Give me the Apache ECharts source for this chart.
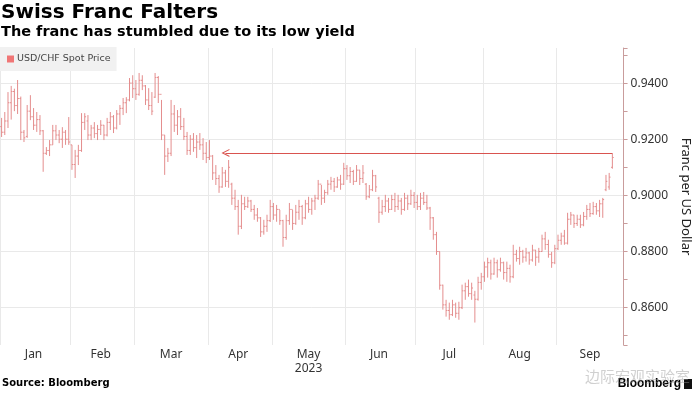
<!DOCTYPE html>
<html><head><meta charset="utf-8">
<script src="https://cdn.jsdelivr.net/npm/echarts@6/dist/echarts.min.js"></script>
<style>html,body{margin:0;padding:0;background:#fff}#c{width:700px;height:393px}</style>
</head><body><div id="c"></div>
<script>
// ---- data ----
const monthLabels = ['Jan','Feb','Mar','Apr','May','Jun','Jul','Aug','Sep'];
const yearLabel = '2023';
const seriesName = 'USD/CHF Spot Price';
const refLevel = 0.9151;      // annotated level (arrow line)
const refStartIdx = 70;       // bar where the arrow points (early April)

const openP = [
.9245,.9225,.9265,.9330,.9370,.9320,.9345,.9225,.9210,.9300,.9280,.9250,.9270,.9230,.9150,.9160,.9180,.9230,.9215,.9200,.9225,.9200,
.9180,.9110,.9140,.9160,.9260,.9265,.9215,.9240,.9220,.9235,.9250,.9215,.9260,.9280,.9240,.9290,.9310,.9330,.9340,.9400,
.9380,.9360,.9410,.9390,.9340,.9320,.9350,.9420,.9360,.9215,.9140,.9150,.9290,.9250,.9280,.9245,.9210,.9160,.9200,.9170,.9190,.9180,.9150,
.9135,.9140,.9080,.9060,.9030,.9080,.9050,.9040,.8990,.8960,.8890,.8970,.8960,.8980,.8950,.8930,.8920,.8870,.8890,.8910,
.8960,.8930,.8950,.8910,.8850,.8910,.8950,.8900,.8940,.8960,.8920,.8970,.8950,.8980,.8990,.9040,.8990,.9010,.9040,.9050,.9030,.9055,.9040,
.9095,.9070,.9085,.9050,.9090,.9060,.9040,.8995,.9020,.9070,.8990,.8940,.8960,.8980,.8950,.8985,.8960,.8980,.8950,.8990,.8970,.9000,
.8975,.8960,.8990,.8975,.8955,.8920,.8860,.8800,.8680,.8610,.8590,.8575,.8610,.8580,.8600,.8660,.8675,.8650,.8645,.8630,.8690,
.8710,.8745,.8760,.8720,.8760,.8735,.8760,.8725,.8740,.8710,.8790,.8775,.8800,.8780,.8795,.8770,.8805,.8780,.8800,.8845,.8825,.8790,.8760,
.8810,.8840,.8855,.8830,.8915,.8930,.8900,.8915,.8895,.8925,.8950,.8935,.8960,.8945,.8970,.9020,.9030,.9100
];
const closeP = [
.9225,.9265,.9330,.9370,.9320,.9345,.9225,.9205,.9300,.9280,.9250,.9270,.9230,.9150,.9160,.9180,.9230,.9215,.9200,.9225,.9200,.9190,
.9110,.9140,.9160,.9260,.9280,.9215,.9240,.9220,.9235,.9250,.9215,.9260,.9280,.9240,.9290,.9310,.9330,.9340,.9400,.9380,
.9360,.9410,.9390,.9340,.9320,.9300,.9420,.9360,.9215,.9140,.9150,.9290,.9250,.9280,.9245,.9210,.9160,.9200,.9170,.9190,.9180,.9150,.9135,
.9140,.9080,.9060,.9030,.9080,.9050,.9100,.8990,.8960,.8890,.8970,.8960,.8980,.8950,.8930,.8920,.8870,.8890,.8910,.8960,
.8930,.8950,.8910,.8850,.8910,.8950,.8900,.8940,.8960,.8920,.8970,.8950,.8980,.8990,.9040,.8990,.9010,.9040,.9050,.9030,.9055,.9040,.9095,
.9070,.9085,.9050,.9090,.9060,.9080,.8995,.9020,.9070,.9030,.8940,.8960,.8980,.8950,.8985,.8960,.8980,.8950,.8990,.8970,.9000,.8975,
.8960,.8990,.8975,.8955,.8920,.8860,.8800,.8680,.8610,.8590,.8575,.8610,.8580,.8600,.8660,.8675,.8650,.8670,.8630,.8690,.8710,
.8745,.8760,.8720,.8760,.8735,.8760,.8725,.8740,.8710,.8790,.8775,.8800,.8780,.8795,.8770,.8805,.8780,.8800,.8845,.8825,.8790,.8760,.8810,
.8840,.8855,.8830,.8915,.8930,.8900,.8915,.8895,.8925,.8950,.8935,.8960,.8945,.8970,.8985,.9050,.9065,.9135
];
const highP = [
.9276,.9297,.9368,.9390,.9380,.9411,.9352,.9233,.9322,.9357,.9311,.9297,.9286,.9233,.9172,.9197,.9251,.9251,.9233,.9243,.9233,.9279,
.9180,.9162,.9180,.9293,.9293,.9286,.9251,.9261,.9251,.9268,.9251,.9276,.9297,.9286,.9304,.9322,.9347,.9350,.9418,.9428,
.9411,.9436,.9428,.9393,.9382,.9368,.9436,.9425,.9340,.9215,.9169,.9340,.9322,.9304,.9311,.9276,.9226,.9215,.9222,.9215,.9222,.9204,.9190,
.9197,.9144,.9108,.9073,.9101,.9091,.9126,.9045,.9020,.8984,.9002,.8995,.8995,.8984,.8966,.8955,.8923,.8913,.8931,.8984,
.8973,.8966,.8948,.8913,.8931,.8973,.8948,.8966,.8984,.8966,.8984,.8995,.8991,.9002,.9055,.9037,.9020,.9055,.9066,.9062,.9066,.9073,.9116,
.9108,.9101,.9091,.9108,.9091,.9108,.9044,.9037,.9091,.9073,.8995,.8984,.9002,.8991,.9002,.9009,.9002,.8991,.9009,.9002,.9020,.9012,
.9002,.9009,.9012,.9002,.8959,.8923,.8870,.8800,.8682,.8628,.8618,.8628,.8618,.8621,.8682,.8689,.8700,.8689,.8660,.8710,.8724,
.8764,.8778,.8771,.8778,.8771,.8778,.8764,.8764,.8753,.8824,.8806,.8817,.8806,.8813,.8799,.8824,.8806,.8813,.8860,.8870,.8842,.8799,.8824,
.8860,.8867,.8877,.8938,.8941,.8931,.8931,.8931,.8941,.8966,.8973,.8977,.8973,.8984,.8991,.9073,.9080,.9150
];
const lowP = [
.9208,.9215,.9240,.9270,.9300,.9290,.9197,.9190,.9205,.9268,.9233,.9226,.9215,.9084,.9144,.9140,.9180,.9197,.9186,.9169,.9180,.9180,
.9091,.9062,.9108,.9155,.9233,.9197,.9197,.9204,.9197,.9215,.9197,.9210,.9233,.9222,.9235,.9251,.9286,.9293,.9335,.9347,
.9340,.9355,.9375,.9322,.9304,.9286,.9347,.9329,.9197,.9073,.9119,.9140,.9226,.9215,.9233,.9197,.9144,.9144,.9155,.9133,.9162,.9126,.9115,
.9126,.9055,.9037,.9009,.9027,.9030,.9027,.8966,.8948,.8860,.8880,.8948,.8955,.8941,.8913,.8906,.8852,.8860,.8870,.8905,
.8913,.8906,.8895,.8817,.8842,.8895,.8877,.8895,.8913,.8895,.8915,.8938,.8931,.8948,.8984,.8966,.8973,.9002,.9020,.9012,.9027,.9020,.9037,
.9055,.9044,.9037,.9048,.9037,.9044,.8984,.8990,.9015,.9012,.8902,.8931,.8941,.8938,.8948,.8941,.8948,.8931,.8945,.8948,.8966,.8955,
.8948,.8948,.8966,.8948,.8877,.8842,.8788,.8664,.8593,.8568,.8557,.8570,.8564,.8557,.8595,.8628,.8639,.8628,.8547,.8625,.8664,
.8692,.8707,.8700,.8717,.8707,.8728,.8700,.8692,.8689,.8705,.8764,.8753,.8760,.8764,.8753,.8764,.8749,.8760,.8799,.8806,.8778,.8742,.8755,
.8805,.8824,.8824,.8825,.8895,.8884,.8891,.8884,.8890,.8913,.8923,.8931,.8931,.8923,.8920,.9015,.9020,.9095
];

// weekday categories, 2 Jan – 29 Sep 2023
const dates = [];
for (let d = new Date(Date.UTC(2023,0,2)); d <= new Date(Date.UTC(2023,8,29)); d.setUTCDate(d.getUTCDate()+1)) {
  const wd = d.getUTCDay();
  if (wd !== 0 && wd !== 6) dates.push(d.toISOString().slice(0,10));
}
const monthOf = dates.map(s => +s.slice(5,7) - 1);
const monthStart = new Set(), monthRange = {};
monthOf.forEach((m,i) => {
  if (i === 0 || monthOf[i-1] !== m) monthStart.add(i);
  if (!monthRange[m]) monthRange[m] = [i,i]; else monthRange[m][1] = i;
});
const labelIdx = {};
Object.keys(monthRange).forEach(m => { const r = monthRange[m]; labelIdx[Math.floor((r[0]+r[1])/2)] = +m; });

const ohlc = openP.map((o,i) => [i, o, closeP[i], lowP[i], highP[i]]);

const barColor = '#e48d8d';
const chevron = 'path://M0,10 L5,0 L10,10 L8.6,10 L5,2.8 L1.4,10 Z';

const chart = echarts.init(document.getElementById('c'), null, {renderer:'canvas'});
chart.setOption({
  animation: false,
  backgroundColor: '#fff',
  title: {
    text: 'Swiss Franc Falters',
    subtext: 'The franc has stumbled due to its low yield',
    left: 1, top: 3, padding: 0, itemGap: 2,
    textStyle: {fontFamily:'DejaVu Sans', fontWeight:'bold', fontSize:20, color:'#000'},
    subtextStyle: {fontFamily:'DejaVu Sans', fontWeight:'bold', fontSize:14.5, color:'#000'}
  },
  legend: {
    left: 0, top: 47, padding: [7,6,7,7], backgroundColor: '#f1f1f1',
    itemWidth: 7, itemHeight: 7, itemGap: 4, icon: 'rect',
    textStyle: {fontFamily:'DejaVu Sans', fontSize:9.5, color:'#444', padding:[0,0,0,-2]},
    data: [{name: seriesName, itemStyle: {color:'#f07676'}}],
    selectedMode: false
  },
  grid: {left: 0, right: 68, top: 48, bottom: 48, containLabel: false},
  xAxis: {
    type: 'category', data: dates, boundaryGap: true,
    axisLine: {show:false}, axisTick: {show:false},
    axisLabel: {
      interval: (i) => labelIdx[i] !== undefined,
      formatter: (v, i) => { const m = labelIdx[i]; return m === 4 ? monthLabels[m] + '\n' + yearLabel : monthLabels[m]; },
      color: '#333', fontSize: 12, fontFamily: 'Noto Sans', margin: 3, lineHeight: 14
    },
    splitLine: {show: true, interval: (i) => monthStart.has(i), lineStyle: {color:'#e9e9e9', width:1}}
  },
  yAxis: {
    type: 'value', position: 'right', min: 0.8467, max: 0.9525, splitNumber: 5, scale: true,
    axisLine: {show:true, lineStyle:{color:'#c99c9c'}},
    axisTick: {show:true, length:4, lineStyle:{color:'#c99c9c'}},
    minorTick: {show:true, splitNumber:2, length:4, lineStyle:{color:'#c99c9c'}},
    axisLabel: {formatter: v => v.toFixed(4), showMinLabel:false, showMaxLabel:false, margin:7, color:'#333', fontSize:12, fontFamily:'Noto Sans'},
    splitLine: {show:true, showMinLine:false, showMaxLine:false, lineStyle:{color:'#e9e9e9'}},
    name: 'Franc per US Dollar', nameLocation: 'middle', nameRotate: -90, nameGap: 52,
    nameTextStyle: {fontFamily:'Noto Sans', fontSize:13, color:'#222'}
  },
  series: [{
    name: seriesName, type: 'custom', data: ohlc,
    encode: {x: 0, y: [1,2,3,4]},
    itemStyle: {color: barColor},
    renderItem: function (params, api) {
      const x = api.value(0);
      const pO = api.coord([x, api.value(1)]);
      const pC = api.coord([x, api.value(2)]);
      const pL = api.coord([x, api.value(3)]);
      const pH = api.coord([x, api.value(4)]);
      const w = api.size([1, 0])[0] * 0.42;
      const st = {stroke: barColor, lineWidth: 1};
      return {type:'group', children:[
        {type:'line', shape:{x1:pH[0], y1:pH[1], x2:pL[0], y2:pL[1]}, style:st},
        {type:'line', shape:{x1:pO[0]-w, y1:pO[1], x2:pO[0], y2:pO[1]}, style:st},
        {type:'line', shape:{x1:pC[0], y1:pC[1], x2:pC[0]+w, y2:pC[1]}, style:st}
      ]};
    },
    markLine: {
      silent: true, animation: false,
      label: {show:false},
      lineStyle: {color:'#d9534f', width:1, type:'solid'},
      symbolSize: [8, 8],
      data: [[
        {coord: [refStartIdx, refLevel], symbol: chevron},
        {coord: [openP.length - 1, refLevel], symbol: 'none'}
      ]]
    }
  }],
  graphic: [
    {type:'text', left: 2, top: 378, style:{text:'Source: Bloomberg', font:'bold 10px "DejaVu Sans"', fill:'#000'}},
    {type:'text', right: 19, top: 378, style:{text:'Bloomberg', font:'bold 12px "Liberation Sans"', fill:'#000'}},
    {type:'rect', right: 8, top: 379, shape:{width:8, height:10}, style:{fill:'#111'}},
    {type:'text', right: 10, top: 369, style:{text:'边际宏观实验室', font:'15px "Noto Sans CJK SC"', fill:'rgba(150,150,150,0.45)'}}
  ]
});
</script>
</body></html>
